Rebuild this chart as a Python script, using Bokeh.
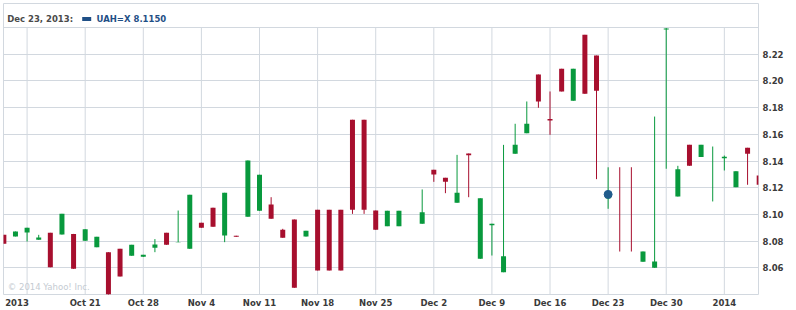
import numpy as np
from bokeh.plotting import figure
from bokeh.models import (ColumnDataSource, Range1d, FixedTicker, Label, BoxAnnotation, Span,
                          PrintfTickFormatter)
from bokeh.embed import file_html
from bokeh.resources import INLINE

# ---------------- data ----------------
dates = [
    "2013-10-10", "2013-10-11", "2013-10-14", "2013-10-15", "2013-10-16", "2013-10-17", "2013-10-18",
    "2013-10-21", "2013-10-22", "2013-10-23", "2013-10-24", "2013-10-25",
    "2013-10-28", "2013-10-29", "2013-10-30", "2013-10-31", "2013-11-01",
    "2013-11-04", "2013-11-05", "2013-11-06", "2013-11-07", "2013-11-08",
    "2013-11-11", "2013-11-12", "2013-11-13", "2013-11-14", "2013-11-15",
    "2013-11-18", "2013-11-19", "2013-11-20", "2013-11-21", "2013-11-22",
    "2013-11-25", "2013-11-26", "2013-11-27", "2013-11-29",
    "2013-12-02", "2013-12-03", "2013-12-04", "2013-12-05", "2013-12-06",
    "2013-12-09", "2013-12-10", "2013-12-11", "2013-12-12", "2013-12-13",
    "2013-12-16", "2013-12-17", "2013-12-18", "2013-12-19", "2013-12-20",
    "2013-12-23", "2013-12-24", "2013-12-25", "2013-12-26", "2013-12-27",
    "2013-12-30", "2013-12-31", "2014-01-01", "2014-01-02", "2014-01-03",
    "2014-01-06", "2014-01-07", "2014-01-08", "2014-01-09",
]
opens = [
    8.0847, 8.0835, 8.0865, 8.0810, 8.0862, 8.0849, 8.0854,
    8.0802, 8.0754, 8.0717, 8.0742, 8.0690,
    8.0682, 8.0750, 8.0862, 8.07920, 8.0742,
    8.0937, 8.1050, 8.0842, 8.0840, 8.0982,
    8.1027, 8.1074, 8.0885, 8.0962, 8.0834,
    8.1034, 8.1034, 8.1034, 8.1709, 8.1709,
    8.1029, 8.0912, 8.0912, 8.0930,
    8.1334, 8.1274, 8.1087, 8.1456, 8.0667,
    8.0918, 8.0567, 8.1454, 8.1608, 8.2048,
    8.1715, 8.2091, 8.1851, 8.2345, 8.2190,
    8.1120, 8.13535, 8.13535, 8.0645, 8.0600,
    8.2386, 8.1134, 8.1521, 8.1431, 8.15080,
    8.1420, 8.1204, 8.1499, 8.1291,
]
highs = [
    8.0847, 8.0872, 8.0900, 8.0847, 8.0862, 8.1004, 8.0854,
    8.0889, 8.0832, 8.0717, 8.0742, 8.0772,
    8.0697, 8.0815, 8.0862, 8.1029, 8.1147,
    8.0937, 8.1050, 8.1162, 8.0840, 8.1404,
    8.1297, 8.1129, 8.0892, 8.0962, 8.0877,
    8.1034, 8.1034, 8.1034, 8.1709, 8.1709,
    8.1029, 8.1027, 8.1027, 8.1187,
    8.1334, 8.1274, 8.1446, 8.1456, 8.1121,
    8.0930, 8.1521, 8.1679, 8.1846, 8.2048,
    8.1921, 8.2091, 8.2091, 8.2345, 8.2190,
    8.1353, 8.13535, 8.13535, 8.0722, 8.1733,
    8.2400, 8.1364, 8.1521, 8.1521, 8.15085,
    8.1441, 8.1324, 8.1499, 8.1291,
]
lows = [
    8.0780, 8.0835, 8.0797, 8.0810, 8.0604, 8.0849, 8.0592,
    8.0802, 8.0754, 8.0380, 8.0535, 8.0690,
    8.0682, 8.0717, 8.0772, 8.07920, 8.0742,
    8.0900, 8.0907, 8.0792, 8.0832, 8.0982,
    8.1027, 8.0967, 8.0825, 8.0450, 8.0834,
    8.0580, 8.0580, 8.0580, 8.1004, 8.1004,
    8.0885, 8.0912, 8.0912, 8.0930,
    8.1244, 8.1159, 8.1087, 8.1129, 8.0667,
    8.0692, 8.0567, 8.1454, 8.1608, 8.1799,
    8.1596, 8.1921, 8.1851, 8.1903, 8.1264,
    8.1042, 8.0722, 8.0722, 8.0645, 8.0600,
    8.1342, 8.1134, 8.1364, 8.1431, 8.1097,
    8.1329, 8.1204, 8.1222, 8.1222,
]
closes = [
    8.0780, 8.0872, 8.0900, 8.0827, 8.0604, 8.1004, 8.0592,
    8.0889, 8.0832, 8.0380, 8.0535, 8.0772,
    8.0697, 8.0775, 8.0772, 8.07925, 8.1147,
    8.0900, 8.0907, 8.1162, 8.0832, 8.1404,
    8.1297, 8.0967, 8.0825, 8.0450, 8.0877,
    8.0580, 8.0580, 8.0580, 8.1034, 8.1034,
    8.0885, 8.1027, 8.1027, 8.1016,
    8.1299, 8.1244, 8.1162, 8.1444, 8.1121,
    8.0930, 8.0687, 8.1521, 8.1679, 8.1846,
    8.1703, 8.1921, 8.2091, 8.1903, 8.1926,
    8.1150, 8.1353, 8.1353, 8.0722, 8.0647,
    8.2392, 8.1339, 8.1364, 8.1521, 8.15085,
    8.1432, 8.1324, 8.1454, 8.1222,
]
week_ticks = ["2013-10-14", "2013-10-21", "2013-10-28", "2013-11-04", "2013-11-11", "2013-11-18",
              "2013-11-25", "2013-12-02", "2013-12-09", "2013-12-16", "2013-12-23", "2013-12-30",
              "2014-01-06"]
week_labels = ["2013", "Oct 21", "Oct 28", "Nov 4", "Nov 11", "Nov 18", "Nov 25", "Dec 2",
               "Dec 9", "Dec 16", "Dec 23", "Dec 30", "2014"]
y_ticks = [8.06, 8.08, 8.10, 8.12, 8.14, 8.16, 8.18, 8.20, 8.22]
symbol = "UAH=X"
marked_date = "2013-12-23"
marked_header = "Dec 23, 2013:"

# ---------------- styling ----------------
RED = "#a70f2e"
GREEN = "#08993d"
GRID = "#d2d8df"
LABEL = "#3a3a3a"
BLUE = "#1f4f86"
FONT = "DejaVu Sans"
FIRST_LABEL_SHIFT = -0.87   # first (year) label sits left of its gridline

idx = np.busday_count(dates[0], dates).astype(int)
o = np.array(opens); c = np.array(closes)
colors = [GREEN if cc > oo else RED for oo, cc in zip(o, c)]
src = ColumnDataSource(dict(
    x=idx, high=highs, low=lows,
    top=np.maximum(o, c), bottom=np.minimum(o, c), color=colors,
))
tick_idx = [int(v) for v in np.busday_count(dates[0], week_ticks)]
label_pos = [tick_idx[0] + FIRST_LABEL_SHIFT] + [float(t) for t in tick_idx[1:]]

p = figure(width=796, height=310, output_backend="svg", toolbar_location=None,
           x_range=Range1d(-0.03, 64.94), y_range=Range1d(8.04, 8.258),
           y_axis_location="right",
           min_border_left=3, min_border_right=38, min_border_top=3, min_border_bottom=16)
p.background_fill_color = "white"
p.border_fill_color = "white"
p.outline_line_color = GRID
p.outline_line_width = 1

# grid
p.xgrid.visible = False
p.ygrid.grid_line_color = GRID
p.add_layout(Span(location=8.24, dimension="width", line_color=GRID, line_width=1))
p.segment(x0=tick_idx, y0=[8.04] * len(tick_idx), x1=tick_idx, y1=[8.24] * len(tick_idx),
          line_color=GRID, line_width=1)

# axes
p.yaxis.ticker = FixedTicker(ticks=y_ticks)
p.yaxis.formatter = PrintfTickFormatter(format="%.2f")
p.xaxis.ticker = FixedTicker(ticks=label_pos)
p.xaxis.major_label_overrides = {pos: lab for pos, lab in zip(label_pos, week_labels)}
for ax in (p.xaxis[0], p.yaxis[0]):
    ax.axis_line_color = None
    ax.major_tick_line_color = None
    ax.minor_tick_line_color = None
    ax.major_tick_out = 0
    ax.major_tick_in = 0
    ax.minor_tick_out = 0
    ax.major_label_text_font = FONT
    ax.major_label_text_font_style = "bold"
    ax.major_label_text_font_size = "8.5px"
    ax.major_label_text_color = LABEL
p.xaxis.major_label_standoff = 3
p.yaxis.major_label_standoff = 4

# candles
p.segment(x0="x", y0="low", x1="x", y1="high", line_color="color", line_width=1, source=src)
p.vbar(x="x", width=0.43, top="top", bottom="bottom", fill_color="color", line_color=None, source=src)

mi = dates.index(marked_date)
p.scatter(x=[int(idx[mi])], y=[closes[mi]], size=8, fill_color="#215c8c", line_color="#215c8c")

# texts
p.add_layout(Label(x=4.3, y=8, x_units="screen", y_units="screen", text="\u00a9 2014 Yahoo! Inc.",
                   text_font=FONT, text_font_size="8.5px", text_color="#c5cbd2",
                   text_baseline="middle"))
p.add_layout(Label(x=3.7, y=275.5, x_units="screen", y_units="screen", text=marked_header,
                   text_font=FONT, text_font_style="bold", text_font_size="8.5px",
                   text_color="#4a4a4a", text_baseline="middle"))
p.add_layout(BoxAnnotation(left=78.7, right=87.7, bottom=273.5, top=277.5,
                           left_units="screen", right_units="screen",
                           bottom_units="screen", top_units="screen",
                           fill_color=BLUE, fill_alpha=1, line_color=None))
p.add_layout(Label(x=93, y=275.5, x_units="screen", y_units="screen",
                   text=f"{symbol} {closes[mi]:.4f}",
                   text_font=FONT, text_font_style="bold", text_font_size="8.5px",
                   text_color=BLUE, text_baseline="middle"))

open("out.html", "w").write(file_html(p, INLINE))
